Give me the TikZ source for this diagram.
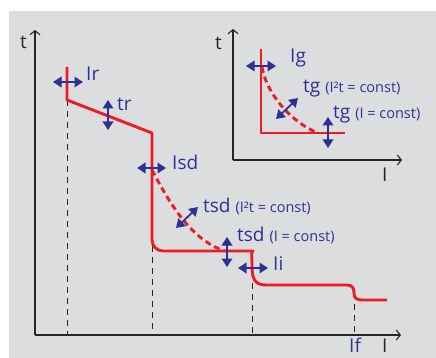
\documentclass[tikz,border=0pt]{standalone}
\usepackage{fontspec}
\setmainfont{Open Sans}
\usetikzlibrary{arrows.meta}
\definecolor{bg}{HTML}{DCDDDF}
\definecolor{rd}{HTML}{ED1C24}
\definecolor{bl}{HTML}{2E3192}
\newcommand\subfnt{\fontsize{14.5}{14.5}\selectfont}
\begin{document}
\begin{tikzpicture}[x=1pt,y=-1pt,
  axis/.style={black!85, line width=1.1pt, -{Straight Barb[length=4pt,width=10pt,line width=1.1pt]}},
  curve/.style={rd, line width=2.9pt, line join=round},
  dcurve/.style={curve, dash pattern=on 6pt off 4pt},
  guide/.style={black!85, line width=0.9pt, dash pattern=on 6pt off 5pt},
  adj/.style={bl, line width=1.8pt, {Triangle[length=8.5pt,width=10.5pt]}-{Triangle[length=8.5pt,width=10.5pt]}},
  lbl/.style={bl, font=\fontsize{19}{19}\selectfont, anchor=base west, inner sep=0pt},
  axlbl/.style={black!85, font=\fontsize{19}{19}\selectfont, anchor=base west, inner sep=0pt}]
\useasboundingbox (0,0) rectangle (436,358);
\fill[bg] (9,11) rectangle (436,358);

% main axes
\coordinate (O) at (35,335);
\coordinate (Ytop) at (35,30);
\coordinate (Xend) at (401,335);
\draw[axis] (O) -- (Ytop);
\draw[axis] (O) -- (Xend);
\node[axlbl] (tmain) at (20,49) {t};
\node[axlbl] (Imain) at (382,352) {I};

% guides
\coordinate (g1t) at (67,100); \coordinate (g1b) at (67,335);
\coordinate (g2t) at (152,246); \coordinate (g2b) at (152,335);
\coordinate (g3t) at (252,272); \coordinate (g3b) at (252,335);
\coordinate (g4t) at (354,304); \coordinate (g4b) at (354,335);
\draw[guide] (g1t) -- (g1b);
\draw[guide] (g2t) -- (g2b);
\draw[guide] (g3t) -- (g3b);
\draw[guide] (g4t) -- (g4b);

% main curve
\coordinate (c0) at (67,67);
\coordinate (c1) at (67,100);
\coordinate (c2) at (152,133);
\draw[curve] (c0) -- (c1) -- (c2) [rounded corners=11pt] -- (152,251) -- (242,251)
  [sharp corners] .. controls (251,251) and (252,256) .. (252,265)
  .. controls (252,278) and (254,285) .. (266,285) -- (347,285)
  .. controls (353,285) and (354,289) .. (354,293)
  .. controls (354,298) and (356,300) .. (363,300) -- (387,300);
\coordinate (d0) at (152,170);
\coordinate (d1) at (225,251);
\draw[dcurve] (d0) .. controls (168,200) and (190,240) .. (d1);

% main labels & arrows
\coordinate (ir1) at (53,82); \coordinate (ir2) at (83,82);
\draw[adj] (ir1) -- (ir2);
\node[lbl] (Ir) at (86,81) {Ir};
\coordinate (tr1) at (108,100); \coordinate (tr2) at (108,130);
\draw[adj] (tr1) -- (tr2);
\node[lbl] (tr) at (117,111) {tr};
\coordinate (isd1) at (137,168); \coordinate (isd2) at (166,168);
\draw[adj] (isd1) -- (isd2);
\node[lbl] (Isd) at (172,170) {Isd};
\coordinate (ts1) at (176,228); \coordinate (ts2) at (198,207);
\draw[adj] (ts1) -- (ts2);
\node[lbl] (tsd1) at (203,212) {tsd {\subfnt (I²t = const)}};
\coordinate (tv1) at (227,237); \coordinate (tv2) at (227,267);
\draw[adj] (tv1) -- (tv2);
\node[lbl] (tsd2) at (237,241) {tsd {\subfnt (I = const)}};
\coordinate (ii1) at (238,268); \coordinate (ii2) at (268,268);
\draw[adj] (ii1) -- (ii2);
\node[lbl] (Ii) at (273,270) {Ii};
\node[lbl] (If) at (349,352) {If};

% inset axes
\coordinate (iO) at (233,160);
\coordinate (iYtop) at (233,29);
\coordinate (iXend) at (402,160);
\draw[axis] (iO) -- (iYtop);
\draw[axis] (iO) -- (iXend);
\node[axlbl] (tin) at (215,50) {t};
\node[axlbl] (Iin) at (382,182) {I};

% inset curve
\coordinate (e0) at (261,49);
\draw[curve] (e0) -- (261,133) -- (345,133);
\coordinate (f0) at (262,67);
\coordinate (f1) at (318,133);
\draw[dcurve] (f0) .. controls (266,92) and (290,122) .. (f1);

% inset labels & arrows
\coordinate (ig1) at (246,66); \coordinate (ig2) at (276,66);
\draw[adj] (ig1) -- (ig2);
\node[lbl] (Ig) at (290,63) {Ig};
\coordinate (tgd1) at (276,119); \coordinate (tgd2) at (298,98);
\draw[adj] (tgd1) -- (tgd2);
\node[lbl] (tg1) at (303,93) {tg {\subfnt (I²t = const)}};
\coordinate (tgv1) at (328,117); \coordinate (tgv2) at (328,148);
\draw[adj] (tgv1) -- (tgv2);
\node[lbl] (tg2) at (333,119) {tg {\subfnt (I = const)}};
\end{tikzpicture}
\end{document}
